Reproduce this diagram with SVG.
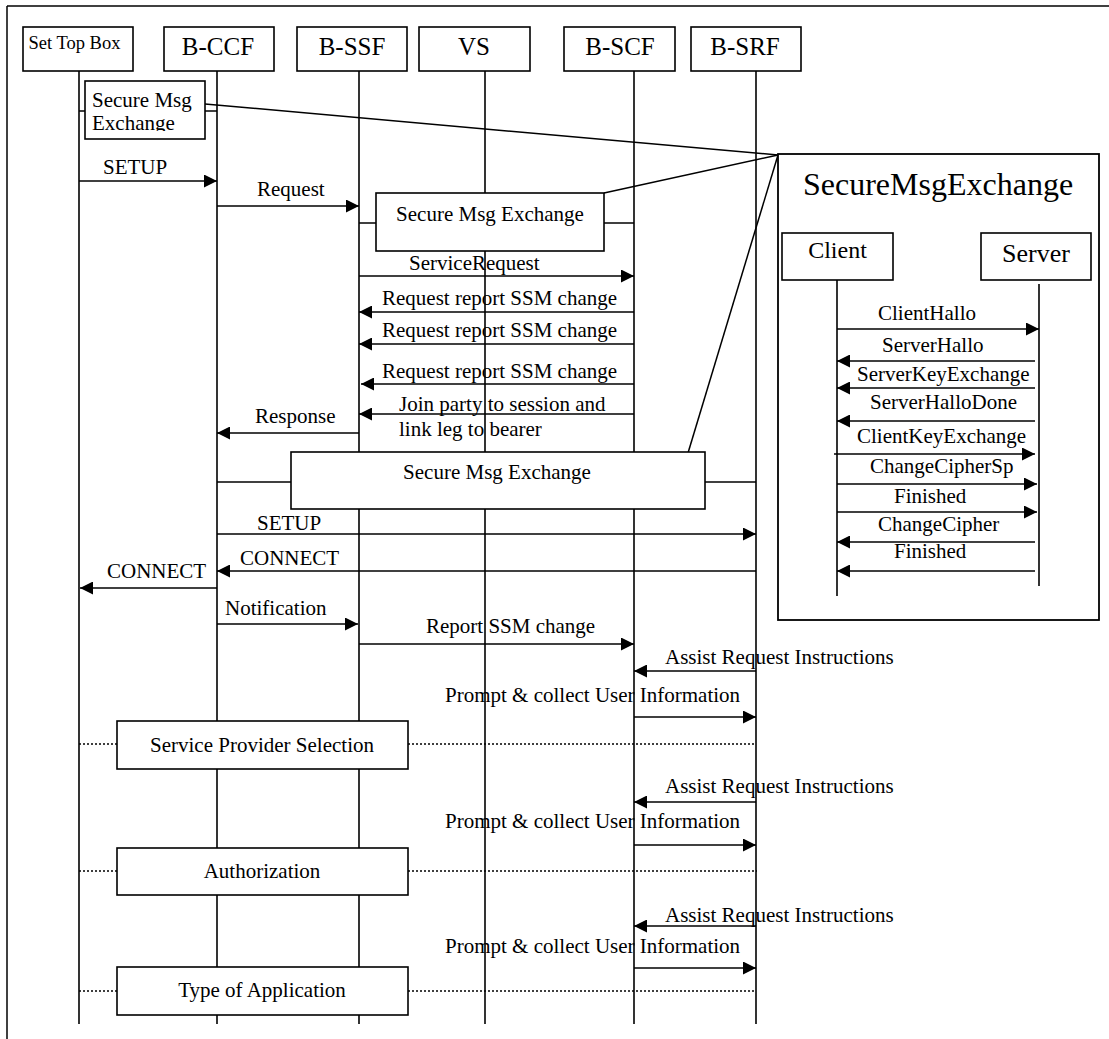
<svg xmlns="http://www.w3.org/2000/svg" width="1109" height="1039" viewBox="0 0 1109 1039">
<style>
text{font-family:"Liberation Serif","Times New Roman",serif;fill:#000}
.m{font-size:21px}
.h{font-size:25px;text-anchor:middle}
.c{text-anchor:middle}
.box{fill:#fff;stroke:#000;stroke-width:1.6}
.ll{stroke:#000;stroke-width:1.6;fill:none}
.ar{stroke:#000;stroke-width:1.6;fill:none;marker-end:url(#ah)}
.ln{stroke:#000;stroke-width:1.5;fill:none}
.dot{stroke:#000;stroke-width:1.6;stroke-dasharray:2 2;fill:none}
</style>
<defs>
<marker id="ah" markerUnits="userSpaceOnUse" markerWidth="14" markerHeight="13" refX="13" refY="6.5" orient="auto">
<path d="M0,0 L13,6.5 L0,13 z" fill="#000"/>
</marker>
<clipPath id="smclip"><rect x="85" y="81" width="120" height="50"/></clipPath>
</defs>
<rect x="0" y="0" width="1109" height="1039" fill="#fff"/>
<g id="frame">
<line class="ln" x1="7" y1="6" x2="1109" y2="6"/>
<line class="ln" x1="7" y1="6" x2="7" y2="1039"/>
</g>

<g id="lifelines">
<line class="ll" x1="79" y1="71" x2="79" y2="1024"/>
<line class="ll" x1="217" y1="71" x2="217" y2="1024"/>
<line class="ll" x1="359" y1="71" x2="359" y2="1024"/>
<line class="ll" x1="485" y1="71" x2="485" y2="1024"/>
<line class="ll" x1="634" y1="71" x2="634" y2="1024"/>
<line class="ll" x1="756" y1="71" x2="756" y2="1024"/>
</g>

<g id="connectors">
<line class="ln" x1="205" y1="104" x2="778" y2="155"/>
<line class="ln" x1="604" y1="193" x2="778" y2="155"/>
<line class="ln" x1="688" y1="453" x2="778" y2="155"/>
<line class="ln" x1="79" y1="111" x2="85" y2="111"/>
<line class="ln" x1="205" y1="111" x2="217" y2="111"/>
<line class="ln" x1="359" y1="223" x2="376" y2="223"/>
<line class="ln" x1="604" y1="223" x2="634" y2="223"/>
<line class="ln" x1="217" y1="482" x2="291" y2="482"/>
<line class="ln" x1="705" y1="482" x2="756" y2="482"/>
<line class="ar" x1="79" y1="181" x2="217" y2="181"/>
<line class="ar" x1="217" y1="206" x2="359" y2="206"/>
<line class="ar" x1="359" y1="276" x2="634" y2="276"/>
<line class="ar" x1="634" y1="312" x2="359" y2="312"/>
<line class="ar" x1="634" y1="344" x2="359" y2="344"/>
<line class="ar" x1="634" y1="384" x2="361" y2="384"/>
<line class="ar" x1="634" y1="414" x2="359" y2="414"/>
<line class="ar" x1="359" y1="433" x2="217" y2="433"/>
<line class="ar" x1="217" y1="534" x2="756" y2="534"/>
<line class="ar" x1="756" y1="571" x2="217" y2="571"/>
<line class="ar" x1="217" y1="588" x2="80" y2="588"/>
<line class="ar" x1="217" y1="624" x2="358" y2="624"/>
<line class="ar" x1="359" y1="644" x2="634" y2="644"/>
<line class="ar" x1="756" y1="671" x2="634" y2="671"/>
<line class="ar" x1="634" y1="717" x2="756" y2="717"/>
<line class="dot" x1="79" y1="744" x2="117" y2="744"/>
<line class="dot" x1="408" y1="744" x2="756" y2="744"/>
<line class="ar" x1="756" y1="802" x2="634" y2="802"/>
<line class="ar" x1="634" y1="845" x2="756" y2="845"/>
<line class="dot" x1="79" y1="871" x2="117" y2="871"/>
<line class="dot" x1="408" y1="871" x2="757" y2="871"/>
<line class="ar" x1="756" y1="926" x2="634" y2="926"/>
<line class="ar" x1="634" y1="968" x2="756" y2="968"/>
<line class="dot" x1="79" y1="991" x2="117" y2="991"/>
<line class="dot" x1="408" y1="991" x2="756" y2="991"/>
</g>

<g id="labels">
<text class="m" x="103" y="174">SETUP</text>
<text class="m" x="257" y="196">Request</text>
<text class="m" x="409" y="270">ServiceRequest</text>
<text class="m" x="382" y="305">Request report SSM change</text>
<text class="m" x="382" y="337">Request report SSM change</text>
<text class="m" x="382" y="378">Request report SSM change</text>
<text class="m" x="399" y="411">Join party to session and</text>
<text class="m" x="399" y="436">link leg to bearer</text>
<text class="m" x="255" y="423">Response</text>
<text class="m" x="257" y="530">SETUP</text>
<text class="m" x="240" y="565">CONNECT</text>
<text class="m" x="107" y="578">CONNECT</text>
<text class="m" x="225" y="615">Notification</text>
<text class="m" x="426" y="633">Report SSM change</text>
<text class="m" x="665" y="664">Assist Request Instructions</text>
<text class="m" x="445" y="702">Prompt &amp; collect User Information</text>
<text class="m" x="665" y="793">Assist Request Instructions</text>
<text class="m" x="445" y="828">Prompt &amp; collect User Information</text>
<text class="m" x="665" y="922">Assist Request Instructions</text>
<text class="m" x="445" y="953">Prompt &amp; collect User Information</text>
</g>

<g id="stb"><rect class="box" x="23" y="27" width="110" height="44"/><text x="74.5" y="49" font-size="18.5" text-anchor="middle">Set Top Box</text></g>
<g id="bccf"><rect class="box" x="164" y="27" width="110" height="44"/><text class="h" x="218" y="55">B-CCF</text></g>
<g id="bssf"><rect class="box" x="297" y="27" width="110" height="44"/><text class="h" x="352" y="55">B-SSF</text></g>
<g id="vs"><rect class="box" x="419" y="27" width="111" height="44"/><text class="h" x="474" y="55">VS</text></g>
<g id="bscf"><rect class="box" x="564" y="27" width="111" height="44"/><text class="h" x="620" y="55">B-SCF</text></g>
<g id="bsrf"><rect class="box" x="691" y="27" width="110" height="44"/><text class="h" x="745" y="55">B-SRF</text></g>

<g id="sme1"><rect class="box" x="85" y="81" width="120" height="58"/>
<g clip-path="url(#smclip)"><text class="m" x="92" y="107">Secure Msg</text><text class="m" x="92" y="130">Exchange</text></g></g>
<g id="sme2"><rect class="box" x="376" y="193" width="228" height="58"/><text class="m c" x="490" y="221">Secure Msg Exchange</text></g>
<g id="sme3"><rect class="box" x="291" y="452" width="414" height="57"/><text class="m c" x="497" y="479">Secure Msg Exchange</text></g>

<g id="sps"><rect class="box" x="117" y="721" width="291" height="48"/><text class="m c" x="262" y="752">Service Provider Selection</text></g>
<g id="auth"><rect class="box" x="117" y="848" width="291" height="47"/><text class="m c" x="262" y="878">Authorization</text></g>
<g id="toa"><rect class="box" x="117" y="967" width="291" height="48"/><text class="m c" x="262" y="997">Type of Application</text></g>

<g id="panel">
<rect x="778" y="154" width="321" height="466" fill="#fff" stroke="#000" stroke-width="1.8"/>
<text x="803" y="195" font-size="32">SecureMsgExchange</text>
<g id="client"><rect class="box" x="782" y="233" width="111" height="47"/><text x="837.5" y="258" font-size="24" text-anchor="middle">Client</text></g>
<g id="server"><rect class="box" x="981" y="233" width="110" height="47"/><text x="1036" y="262" font-size="26" text-anchor="middle">Server</text></g>
<g id="panel-connectors">
<line class="ll" x1="837" y1="280" x2="837" y2="596"/>
<line class="ll" x1="1039" y1="284" x2="1039" y2="586"/>
<line class="ar" x1="837" y1="329" x2="1039" y2="329"/>
<line class="ar" x1="1035" y1="361" x2="837" y2="361"/>
<line class="ar" x1="1035" y1="388" x2="837" y2="388"/>
<line class="ar" x1="1035" y1="421" x2="837" y2="421"/>
<line class="ar" x1="834" y1="454" x2="1035" y2="454"/>
<line class="ar" x1="837" y1="484" x2="1037" y2="484"/>
<line class="ar" x1="837" y1="512" x2="1037" y2="512"/>
<line class="ar" x1="1035" y1="542" x2="837" y2="542"/>
<line class="ar" x1="1035" y1="571" x2="837" y2="571"/>
</g>
<text class="m" x="878" y="320">ClientHallo</text>
<text class="m" x="882" y="352">ServerHallo</text>
<text class="m" x="857" y="381">ServerKeyExchange</text>
<text class="m" x="870" y="409">ServerHalloDone</text>
<text class="m" x="857" y="443">ClientKeyExchange</text>
<text class="m" x="870" y="473">ChangeCipherSp</text>
<text class="m" x="894" y="503">Finished</text>
<text class="m" x="878" y="531">ChangeCipher</text>
<text class="m" x="894" y="558">Finished</text>
</g>
</svg>
